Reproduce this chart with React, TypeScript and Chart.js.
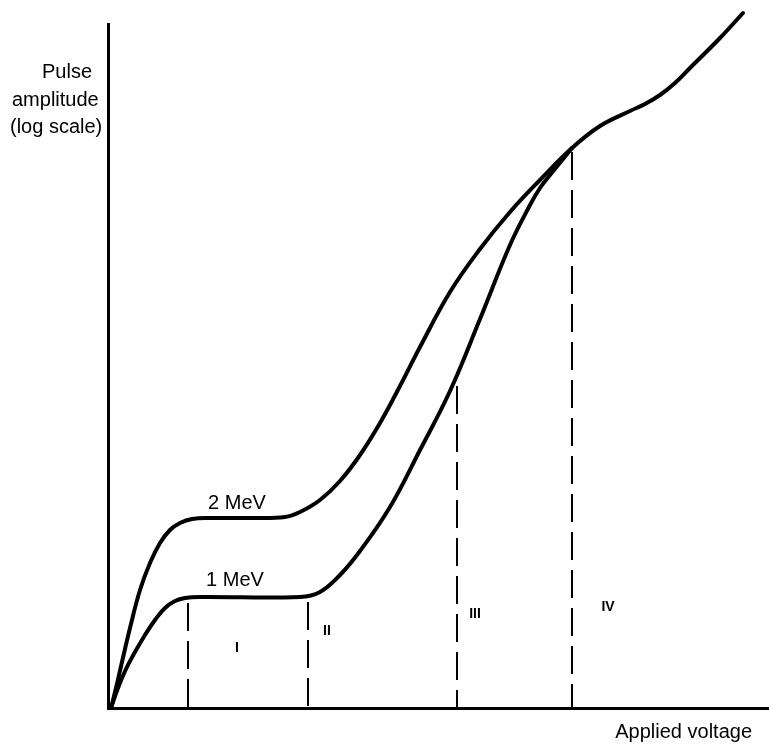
import React, { useEffect, useRef } from "react";
import { Chart, registerables } from "chart.js";

Chart.register(...registerables);

// Curve data (arbitrary units: voltage along x, pulse amplitude along y)
const voltage2MeV = [3, 8, 14, 22, 32, 42, 52, 62, 72, 84, 102, 142, 177, 192, 212, 232, 252, 272, 292, 312, 342, 372, 402, 432, 464, 492, 522, 537, 552, 567, 582, 612, 635];
const amplitude2MeV = [0, 20, 46, 80, 118, 145, 165, 178, 185, 189, 190, 190, 191, 196, 208, 227, 253, 285, 322, 361, 416, 459, 496, 528, 560, 582, 597, 604, 613, 625, 640, 670, 695];

const voltage1MeV = [3, 10, 18, 27, 37, 47, 57, 67, 77, 92, 192, 212, 232, 252, 282, 312, 342, 372, 402, 422, 432, 442, 464];
const amplitude1MeV = [0, 20, 39, 56, 73, 88, 100, 107, 110, 111, 111, 116, 133, 157, 201, 258, 317, 389, 463, 503, 520, 533, 560];

// Region boundaries (dashed verticals)
const boundaryVoltage = [80, 200, 349, 464];
const boundaryTop = [105, 106, 322, 556];

// Region labels
const regionLabels = ["I", "II", "III", "IV"];
const regionLabelX = [129, 219, 367, 500];
const regionLabelY = [60, 77, 94, 101];

// Curve labels
const curveLabels = ["2 MeV", "1 MeV"];
const curveLabelX = [129, 127];
const curveLabelY = [205, 128];

const yTitleLines = ["Pulse", "amplitude", "(log scale)"];
const xTitle = "Applied voltage";

const X_MAX = 661;
const Y_MAX = 684;

const FONT = "'Liberation Sans', Arial, Helvetica, sans-serif";

const textPlugin = {
  id: "textPlugin",
  afterDatasetsDraw(chart: any) {
    const { ctx, chartArea, scales } = chart;
    const x = scales.x;
    const y = scales.y;
    ctx.save();
    ctx.fillStyle = "#000";
    ctx.textAlign = "center";
    ctx.textBaseline = "middle";
    ctx.font = `20px ${FONT}`;
    curveLabels.forEach((t, i) => {
      ctx.fillText(t, x.getPixelForValue(curveLabelX[i]), y.getPixelForValue(curveLabelY[i]));
    });
    ctx.font = `bold 14px ${FONT}`;
    regionLabels.forEach((t, i) => {
      ctx.fillText(t, x.getPixelForValue(regionLabelX[i]), y.getPixelForValue(regionLabelY[i]));
    });
    ctx.font = `20px ${FONT}`;
    ctx.textBaseline = "alphabetic";
    ctx.textAlign = "left";
    const offs = [-66, -96, -98];
    yTitleLines.forEach((t, i) => {
      ctx.fillText(t, chartArea.left + offs[i], chartArea.top + 54 + i * 27.5);
    });
    ctx.textAlign = "right";
    ctx.fillText(xTitle, chartArea.right - 17, chartArea.bottom + 30);
    ctx.restore();
  },
};

export default function App() {
  const canvasRef = useRef<HTMLCanvasElement | null>(null);

  useEffect(() => {
    const canvas = canvasRef.current;
    if (!canvas) return;

    const pts = (xs: number[], ys: number[]) => xs.map((v, i) => ({ x: v, y: ys[i] }));

    const dashed = boundaryVoltage.map((v, i) => ({
      label: "boundary " + regionLabels[i],
      data: [
        { x: v, y: boundaryTop[i] },
        { x: v, y: 0 },
      ],
      borderColor: "#000",
      borderWidth: 2,
      borderDash: [28, 10],
      pointRadius: 0,
      tension: 0,
      fill: false,
    }));

    const curveStyle = {
      borderColor: "#000",
      borderWidth: 4,
      pointRadius: 0,
      tension: 0.4,
      fill: false,
      clip: false,
      borderCapStyle: "round",
      borderJoinStyle: "round",
    };

    const chart = new Chart(canvas, {
      type: "line",
      data: {
        datasets: [
          { label: "2 MeV", data: pts(voltage2MeV, amplitude2MeV), ...curveStyle } as any,
          { label: "1 MeV", data: pts(voltage1MeV, amplitude1MeV), ...curveStyle } as any,
          ...dashed,
        ],
      },
      options: {
        animation: false,
        responsive: false,
        maintainAspectRatio: false,
        devicePixelRatio: 1,
        layout: { padding: { left: 108, top: 24, right: 0, bottom: 36 } },
        plugins: {
          legend: { display: false },
          tooltip: { enabled: false },
        },
        scales: {
          x: {
            type: "linear",
            min: 0,
            max: X_MAX,
            ticks: { display: false },
            grid: { display: false, drawTicks: false },
            border: { display: true, color: "#000", width: 3 },
          },
          y: {
            type: "linear",
            min: 0,
            max: Y_MAX,
            ticks: { display: false },
            grid: { display: false, drawTicks: false },
            border: { display: true, color: "#000", width: 3 },
          },
        },
      } as any,
      plugins: [textPlugin],
    });

    return () => chart.destroy();
  }, []);

  return (
    <div style={{ position: "absolute", left: 0, top: 0, width: 769, height: 744, background: "#fff" }}>
      <canvas ref={canvasRef} width={769} height={744} style={{ display: "block" }} />
    </div>
  );
}
